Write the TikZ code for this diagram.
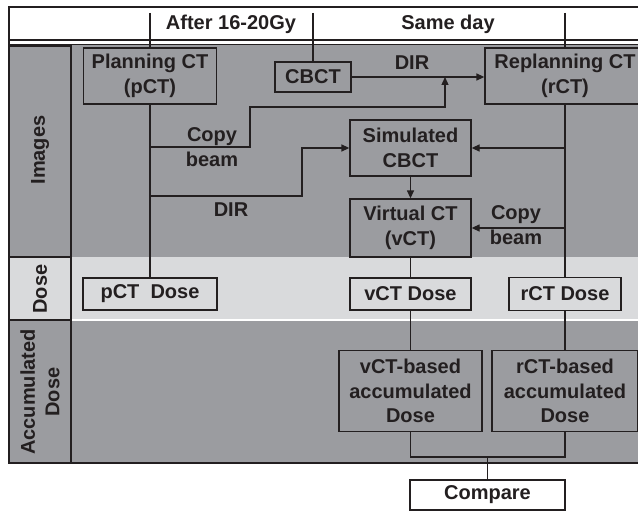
\documentclass[tikz,border=0pt]{standalone}
\usepackage{fontspec}
\setmainfont{Liberation Sans}
\usetikzlibrary{arrows.meta,calc}

\definecolor{bandgray}{RGB}{155,156,160}
\definecolor{dosegray}{RGB}{217,218,220}
\definecolor{ink}{RGB}{35,31,32}

\tikzset{
  lbl/.style={font=\fontsize{20}{24.5}\selectfont\bfseries, text=ink, align=center, inner sep=0pt},
  box/.style={lbl, draw=ink, line width=1.3pt},
  wire/.style={draw=ink, line width=1.3pt},
  arr/.style={wire, -{Triangle[length=8pt,width=7pt]}},
}

\begin{document}
\begin{tikzpicture}[x=1pt, y=-1pt]
  \useasboundingbox (0,0) rectangle (638,511);

 %bands
  \fill[white] (9,7) rectangle (638,44);
  \fill[bandgray] (9,44) rectangle (638,257);
  \fill[dosegray] (9,257) rectangle (638,320);
  \fill[bandgray] (9,321) rectangle (638,463);
  \draw[white, line width=1.5pt] (71,320) -- (638,320);

 %frame
  \draw[ink, line width=1.3pt] (638,7) -- (9,7) -- (9,463) -- (638,463);
  \draw[ink, line width=1.2pt] (9,40) -- (638,40);
  \draw[ink, line width=0.6pt] (9,44) -- (638,44);

 %left column
  \foreach \ya/\yb in {46/257, 257/320, 320/463} {
      \draw[ink, line width=1.3pt] (9,\ya) rectangle (71,\yb);
  }
  \node[lbl, rotate=90] (limages) at (40,150) {Images};
  \node[lbl, rotate=90] (ldose) at (40,289) {Dose};
  \node[lbl, rotate=90] (lacc) at (40,392) {Accumulated\\Dose};

 %header
  \node[lbl] (hafter) at (231,24) {After 16-20Gy};
  \node[lbl] (hsame) at (448,24) {Same day};

 %images
  \node[box, minimum width=133pt, minimum height=56pt] (pct) at (150,76) {Planning CT\\(pCT)};
  \node[box, minimum width=76pt, minimum height=30pt] (cbct) at (313,77) {CBCT};
  \node[box, minimum width=160pt, minimum height=56pt] (rct) at (565,76) {Replanning CT\\(rCT)};
  \node[box, minimum width=121pt, minimum height=56pt] (sim) at (410.5,148) {Simulated\\CBCT};
  \node[box, minimum width=121pt, minimum height=58pt] (vct) at (410.5,228) {Virtual CT\\(vCT)};

 %dose
  \node[box, fill=dosegray, minimum width=134pt, minimum height=32pt] (pctdose) at (150,294) {pCT\ \ Dose};
  \node[box, fill=dosegray, minimum width=121pt, minimum height=32pt] (vctdose) at (410.5,294) {vCT Dose};
  \node[box, fill=dosegray, minimum width=112pt, minimum height=33pt] (rctdose) at (565,294) {rCT Dose};

 %accumulated
  \node[box, minimum width=143pt, minimum height=81pt] (vacc) at (410.5,391) {vCT-based\\accumulated\\Dose};
  \node[box, minimum width=146pt, minimum height=81pt] (racc) at (565,391) {rCT-based\\accumulated\\Dose};
  \node[box, fill=white, minimum width=155pt, minimum height=30pt] (compare) at (487.5,495) {Compare};

 %header dividers
  \foreach \n in {pct, cbct, rct} {
      \draw[wire] (\n.north |- 0,13) -- (\n.north);
  }

 %pCT branches
  \coordinate (jcopy) at (150,147);
  \coordinate (jdir) at (150,196);
  \coordinate (kcopy) at (250,107);
  \coordinate (kdir) at (302,148);
  \coordinate (dirmid) at (445,77);
  \draw[wire] (pct.south) -- (pctdose.north);
  \draw[arr] (jcopy) -| (kcopy) -| (dirmid);
  \draw[arr] (jdir) -| (kdir) -- (sim.west);
  \draw[arr] (cbct.east) -- (cbct.east -| rct.west);
  \node[lbl] (tdir1) at (412,63) {DIR};
  \node[lbl] (tcopy1) at (212,147) {Copy\\beam};
  \node[lbl] (tdir2) at (231,210) {DIR};

 %rCT branches
  \coordinate (rsim) at (rct.south |- sim.east);
  \coordinate (rvct) at (rct.south |- vct.east);
  \draw[wire] (rct.south) -- (rctdose.north);
  \draw[arr] (rsim) -- (sim.east);
  \draw[arr] (rvct) -- (vct.east);
  \node[lbl] (tcopy2) at (516,225) {Copy\\beam};
  \draw[arr] (sim.south) -- (vct.north);

 %to accumulated
  \draw[wire] (vct.south) -- (vctdose.north);
  \draw[wire] (vctdose.south) -- (vacc.north);
  \draw[wire] (rctdose.south) -- (racc.north);
  \coordinate (mjoin) at (487.5,457);
  \draw[wire] (vacc.south) |- (mjoin) -| (racc.south);
  \draw[wire] (mjoin) -- (compare.north);

  \draw[ink, line width=1.6pt] (9,463) -- (638,463);
\end{tikzpicture}
\end{document}
